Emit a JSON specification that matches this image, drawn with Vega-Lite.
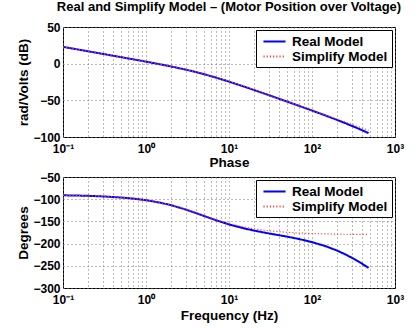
{
  "$schema": "https://vega.github.io/schema/vega-lite/v6.json",
  "padding": {"left": 16, "top": 0, "right": 5, "bottom": 3},
  "background": "#ffffff",
  "config": {
    "font": "Liberation Sans",
    "view": {"stroke": "#000000", "strokeWidth": 1},
    "axis": {
      "labelFont": "Liberation Sans", "labelFontSize": 12, "labelFontWeight": "bold", "labelColor": "#000000",
      "titleFont": "Liberation Sans", "titleFontSize": 13.5, "titleFontWeight": "bold", "titleColor": "#000000",
      "domain": false, "ticks": false,
      "gridColor": "#777777", "gridDash": [1, 3], "gridOpacity": 1, "gridWidth": 1
    },
    "legend": {
      "orient": "top-right", "offset": 3, "title": null,
      "strokeColor": "#000000", "fillColor": "#ffffff", "padding": 4,
      "labelFont": "Liberation Sans", "labelFontSize": 13.5, "labelFontWeight": "bold", "labelColor": "#000000",
      "symbolType": "M-1.7,0H1.7", "symbolSize": 169, "symbolStrokeWidth": 2, "symbolOffset": 7,
      "rowPadding": 1, "labelOffset": 10
    },
    "concat": {"spacing": 40}
  },
  "datasets": {
    "d": [
      {"f": 0.1, "model": "Real Model", "mag": 22.93, "ph": -91.2},
      {"f": 0.15, "model": "Real Model", "mag": 19.41, "ph": -91.8},
      {"f": 0.2, "model": "Real Model", "mag": 16.90, "ph": -92.4},
      {"f": 0.3, "model": "Real Model", "mag": 13.37, "ph": -93.7},
      {"f": 0.5, "model": "Real Model", "mag": 8.90, "ph": -96.2},
      {"f": 0.7, "model": "Real Model", "mag": 5.93, "ph": -98.6},
      {"f": 1, "model": "Real Model", "mag": 2.74, "ph": -102.2},
      {"f": 1.5, "model": "Real Model", "mag": -1.01, "ph": -108.0},
      {"f": 2, "model": "Real Model", "mag": -3.81, "ph": -113.4},
      {"f": 3, "model": "Real Model", "mag": -8.09, "ph": -123.1},
      {"f": 4, "model": "Real Model", "mag": -11.48, "ph": -131.2},
      {"f": 5, "model": "Real Model", "mag": -14.34, "ph": -137.8},
      {"f": 7, "model": "Real Model", "mag": -19.05, "ph": -147.5},
      {"f": 10, "model": "Real Model", "mag": -24.49, "ph": -156.8},
      {"f": 15, "model": "Real Model", "mag": -31.09, "ph": -165.5},
      {"f": 20, "model": "Real Model", "mag": -35.91, "ph": -170.7},
      {"f": 30, "model": "Real Model", "mag": -42.83, "ph": -177.0},
      {"f": 50, "model": "Real Model", "mag": -51.70, "ph": -184.3},
      {"f": 70, "model": "Real Model", "mag": -57.58, "ph": -189.8},
      {"f": 100, "model": "Real Model", "mag": -63.90, "ph": -196.6},
      {"f": 150, "model": "Real Model", "mag": -71.26, "ph": -206.6},
      {"f": 200, "model": "Real Model", "mag": -76.64, "ph": -215.7},
      {"f": 250, "model": "Real Model", "mag": -80.98, "ph": -224.0},
      {"f": 300, "model": "Real Model", "mag": -84.65, "ph": -231.6},
      {"f": 350, "model": "Real Model", "mag": -87.86, "ph": -238.7},
      {"f": 400, "model": "Real Model", "mag": -90.72, "ph": -245.2},
      {"f": 450, "model": "Real Model", "mag": -93.30, "ph": -251.3},
      {"f": 480, "model": "Real Model", "mag": -94.74, "ph": -254.7},
      {"f": 0.1, "model": "Simplify Model", "mag": 22.93, "ph": -91.2},
      {"f": 0.15, "model": "Simplify Model", "mag": 19.41, "ph": -91.8},
      {"f": 0.2, "model": "Simplify Model", "mag": 16.90, "ph": -92.4},
      {"f": 0.3, "model": "Simplify Model", "mag": 13.37, "ph": -93.7},
      {"f": 0.5, "model": "Simplify Model", "mag": 8.90, "ph": -96.1},
      {"f": 0.7, "model": "Simplify Model", "mag": 5.93, "ph": -98.5},
      {"f": 1, "model": "Simplify Model", "mag": 2.74, "ph": -102.0},
      {"f": 1.5, "model": "Simplify Model", "mag": -1.01, "ph": -107.7},
      {"f": 2, "model": "Simplify Model", "mag": -3.81, "ph": -113.0},
      {"f": 3, "model": "Simplify Model", "mag": -8.09, "ph": -122.5},
      {"f": 4, "model": "Simplify Model", "mag": -11.48, "ph": -130.4},
      {"f": 5, "model": "Simplify Model", "mag": -14.34, "ph": -136.8},
      {"f": 7, "model": "Simplify Model", "mag": -19.05, "ph": -146.1},
      {"f": 10, "model": "Simplify Model", "mag": -24.49, "ph": -154.8},
      {"f": 15, "model": "Simplify Model", "mag": -31.08, "ph": -162.6},
      {"f": 20, "model": "Simplify Model", "mag": -35.90, "ph": -166.8},
      {"f": 30, "model": "Simplify Model", "mag": -42.81, "ph": -171.1},
      {"f": 50, "model": "Simplify Model", "mag": -51.63, "ph": -174.6},
      {"f": 70, "model": "Simplify Model", "mag": -57.45, "ph": -176.2},
      {"f": 100, "model": "Simplify Model", "mag": -63.64, "ph": -177.3},
      {"f": 150, "model": "Simplify Model", "mag": -70.68, "ph": -178.2},
      {"f": 200, "model": "Simplify Model", "mag": -75.67, "ph": -178.7},
      {"f": 250, "model": "Simplify Model", "mag": -79.55, "ph": -178.9},
      {"f": 300, "model": "Simplify Model", "mag": -82.71, "ph": -179.1},
      {"f": 350, "model": "Simplify Model", "mag": -85.39, "ph": -179.2},
      {"f": 400, "model": "Simplify Model", "mag": -87.71, "ph": -179.3},
      {"f": 450, "model": "Simplify Model", "mag": -89.75, "ph": -179.4},
      {"f": 480, "model": "Simplify Model", "mag": -90.87, "ph": -179.4}
    ]
  },
  "bounds": "flush",
  "resolve": {"legend": {"color": "independent", "strokeDash": "independent"}},
  "vconcat": [
    {
      "title": {"text": "Real and Simplify Model – (Motor Position over Voltage)", "frame": "group", "anchor": "middle", "fontSize": 13, "fontWeight": "bold", "font": "Liberation Sans", "color": "#000000", "offset": 7},
      "width": 332, "height": 110,
      "data": {"name": "d"},
      "mark": {"type": "line", "clip": true},
      "encoding": {
        "x": {"field": "f", "type": "quantitative",
          "scale": {"type": "log", "domain": [0.1, 1000], "nice": false},
          "axis": {"title": "Phase", "titlePadding": 1, "labelPadding": 6, "labelOverlap": false, "labelFlush": false, "labelBound": false,
            "values": [0.1, 0.2, 0.3, 0.4, 0.5, 0.6, 0.7, 0.8, 0.9, 1, 2, 3, 4, 5, 6, 7, 8, 9, 10, 20, 30, 40, 50, 60, 70, 80, 90, 100, 200, 300, 400, 500, 600, 700, 800, 900, 1000],
            "labelExpr": "datum.value == 0.1 ? '10⁻¹' : datum.value == 1 ? '10⁰' : datum.value == 10 ? '10¹' : datum.value == 100 ? '10²' : datum.value == 1000 ? '10³' : ''"}},
        "y": {"field": "mag", "type": "quantitative",
          "scale": {"domain": [-100, 50], "nice": false},
          "axis": {"title": "rad/Volts (dB)", "values": [-100, -50, 0, 50], "labelPadding": 3, "titlePadding": 2}},
        "color": {"field": "model", "type": "nominal",
          "scale": {"domain": ["Real Model", "Simplify Model"], "range": ["#0000ff", "#ff4444"]}},
        "strokeDash": {"field": "model", "type": "nominal",
          "scale": {"domain": ["Real Model", "Simplify Model"], "range": [[1, 0], [1.2, 2]]}},
        "strokeWidth": {"field": "model", "type": "nominal",
          "scale": {"domain": ["Real Model", "Simplify Model"], "range": [2, 1.2]}, "legend": null}
      }
    },
    {
      "width": 332, "height": 111,
      "data": {"name": "d"},
      "mark": {"type": "line", "clip": true},
      "encoding": {
        "x": {"field": "f", "type": "quantitative",
          "scale": {"type": "log", "domain": [0.1, 1000], "nice": false},
          "axis": {"title": "Frequency (Hz)", "titlePadding": 3, "labelPadding": 6, "labelOverlap": false, "labelFlush": false, "labelBound": false,
            "values": [0.1, 0.2, 0.3, 0.4, 0.5, 0.6, 0.7, 0.8, 0.9, 1, 2, 3, 4, 5, 6, 7, 8, 9, 10, 20, 30, 40, 50, 60, 70, 80, 90, 100, 200, 300, 400, 500, 600, 700, 800, 900, 1000],
            "labelExpr": "datum.value == 0.1 ? '10⁻¹' : datum.value == 1 ? '10⁰' : datum.value == 10 ? '10¹' : datum.value == 100 ? '10²' : datum.value == 1000 ? '10³' : ''"}},
        "y": {"field": "ph", "type": "quantitative",
          "scale": {"domain": [-300, -50], "nice": false},
          "axis": {"title": "Degrees", "values": [-300, -250, -200, -150, -100, -50], "labelPadding": 3, "titlePadding": 2}},
        "color": {"field": "model", "type": "nominal",
          "scale": {"domain": ["Real Model", "Simplify Model"], "range": ["#0000ff", "#ff4444"]}},
        "strokeDash": {"field": "model", "type": "nominal",
          "scale": {"domain": ["Real Model", "Simplify Model"], "range": [[1, 0], [1.2, 2]]}},
        "strokeWidth": {"field": "model", "type": "nominal",
          "scale": {"domain": ["Real Model", "Simplify Model"], "range": [2, 1.2]}, "legend": null}
      }
    }
  ]
}
